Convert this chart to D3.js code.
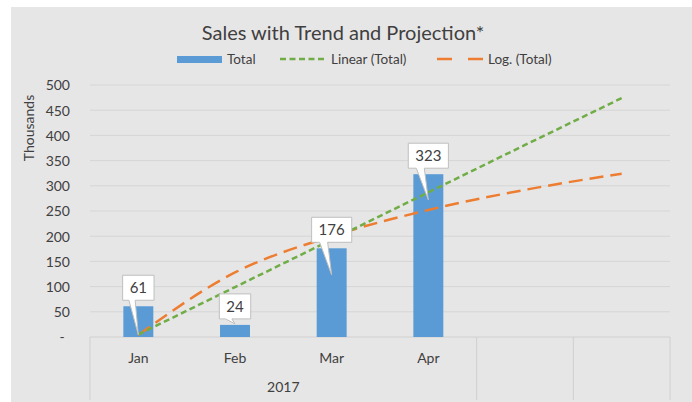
<!DOCTYPE html>
<html>
<head>
<meta charset="utf-8">
<script src="https://cdn.jsdelivr.net/npm/d3@7"></script>
<style>
  body { margin: 0; background: #ffffff; }
  svg text { font-family: Lato, "Open Sans", sans-serif; fill: #404040; }
</style>
</head>
<body>
<div id="chart"></div>
<script>
// data (sales in thousands)
const months = ["Jan", "Feb", "Mar", "Apr", "", ""]
const totals = [61, 24, 176, 323]
const linearTrend = [5, 99, 193, 287, 381, 474]
const logTrend = [4, 128, 200, 252, 292, 324]
const calloutTip = [4, 26, 123, 272]
const yTicks = [0, 50, 100, 150, 200, 250, 300, 350, 400, 450, 500]
const yearLabel = "2017"

function drawChart() {

  let dimensions = {
    width: 692,
    height: 402,
    margin: { top: 85, right: 22, bottom: 65, left: 90 },
  }
  dimensions.boundedWidth = dimensions.width - dimensions.margin.left - dimensions.margin.right
  dimensions.boundedHeight = dimensions.height - dimensions.margin.top - dimensions.margin.bottom

  const wrapper = d3.select("#chart")
    .append("svg")
      .attr("width", dimensions.width)
      .attr("height", dimensions.height)

  wrapper.append("rect")
      .attr("x", 11)
      .attr("y", 7)
      .attr("width", dimensions.width - 11)
      .attr("height", dimensions.height - 7)
      .attr("fill", "#e7e6e6")

  const bounds = wrapper.append("g")
      .attr("transform", `translate(${dimensions.margin.left},${dimensions.margin.top})`)

  // scales
  const xScale = d3.scaleBand()
    .domain(d3.range(months.length))
    .range([0, dimensions.boundedWidth])
    .padding(0)

  const yScale = d3.scaleLinear()
    .domain([0, 500])
    .range([dimensions.boundedHeight, 0])

  const cx = i => xScale(i) + xScale.bandwidth() / 2
  const barWidth = xScale.bandwidth() * 0.31

  // gridlines
  bounds.append("g")
    .selectAll("line")
    .data(yTicks.slice(1))
    .join("line")
      .attr("x1", 0)
      .attr("x2", dimensions.boundedWidth)
      .attr("y1", d => yScale(d))
      .attr("y2", d => yScale(d))
      .attr("stroke", "#d6d5d5")
      .attr("stroke-width", 1)

  // y axis labels
  const yAxis = bounds.append("g")
    .call(d3.axisLeft(yScale)
      .tickValues(yTicks)
      .tickSize(0)
      .tickPadding(20)
      .tickFormat(d => d === 0 ? "-" : d))
  yAxis.select(".domain").remove()
  yAxis.selectAll("text")
      .style("font-family", "Lato, sans-serif")
      .style("font-size", "14px")
      .attr("fill", "#404040")
      .attr("dy", "0.35em")
  yAxis.selectAll(".tick")
    .filter(d => d === 0)
    .select("text")
      .attr("x", -28)
      .attr("text-anchor", "middle")

  bounds.append("text")
      .attr("transform", "translate(-61,43) rotate(-90)")
      .attr("text-anchor", "middle")
      .attr("dy", "0.35em")
      .style("font-size", "14px")
      .text("Thousands")

  // category axis
  const catAxis = bounds.append("g")
      .attr("transform", `translate(0,${dimensions.boundedHeight})`)
  catAxis.append("line")
      .attr("x1", 0)
      .attr("x2", dimensions.boundedWidth)
      .attr("stroke", "#d0cfcf")
  const separators = [0, 4, 5, 6]
  catAxis.selectAll(".sep")
    .data(separators)
    .join("line")
      .attr("class", "sep")
      .attr("x1", d => d < months.length ? xScale(d) : dimensions.boundedWidth)
      .attr("x2", d => d < months.length ? xScale(d) : dimensions.boundedWidth)
      .attr("y1", 0)
      .attr("y2", 63)
      .attr("stroke", "#d0cfcf")
  catAxis.selectAll(".month")
    .data(months)
    .join("text")
      .attr("class", "month")
      .attr("x", (d, i) => cx(i))
      .attr("y", 21)
      .attr("dy", "0.35em")
      .attr("text-anchor", "middle")
      .style("font-size", "14px")
      .text(d => d)
  catAxis.append("text")
      .attr("x", (xScale(0) + xScale(3) + xScale.bandwidth()) / 2)
      .attr("y", 50)
      .attr("dy", "0.35em")
      .attr("text-anchor", "middle")
      .style("font-size", "14px")
      .text(yearLabel)

  // bars
  bounds.append("g")
    .selectAll("rect")
    .data(totals)
    .join("rect")
      .attr("x", (d, i) => cx(i) - barWidth / 2)
      .attr("width", barWidth)
      .attr("y", d => yScale(d))
      .attr("height", d => dimensions.boundedHeight - yScale(d))
      .attr("fill", "#5b9bd5")

  // trendlines
  const linearLine = d3.line()
    .x((d, i) => cx(i))
    .y(d => yScale(d))

  const logLine = d3.line()
    .x((d, i) => cx(i))
    .y(d => yScale(d))
    .curve(d3.curveMonotoneX)

  bounds.append("path")
      .attr("d", logLine(logTrend))
      .attr("fill", "none")
      .attr("stroke", "#ed7d31")
      .attr("stroke-width", 2.5)
      .attr("stroke-dasharray", "14,7")

  bounds.append("path")
      .attr("d", linearLine(linearTrend))
      .attr("fill", "none")
      .attr("stroke", "#70ad47")
      .attr("stroke-width", 2.5)
      .attr("stroke-dasharray", "6,3.5")

  // data callouts
  const callouts = bounds.append("g")
    .selectAll("g")
    .data(totals)
    .join("g")

  callouts.each(function(d, i) {
    const g = d3.select(this)
    const label = g.append("text")
      .attr("x", cx(i))
      .attr("text-anchor", "middle")
      .style("font-size", "15px")
      .attr("fill", "#404040")
      .text(d)
    const w = label.node().getComputedTextLength() + 14
    const h = 25
    const x0 = cx(i) - w / 2
    const y1 = yScale(d) - 6
    const y0 = y1 - h
    const tipX = cx(i)
    const tipY = yScale(calloutTip[i])
    const b0 = x0 + w * 0.2
    const b1 = x0 + w * 0.4
    const path = `M${x0},${y0}H${x0 + w}V${y1}H${b1}L${tipX},${tipY}L${b0},${y1}H${x0}Z`
    g.insert("path", "text")
      .attr("d", path)
      .attr("fill", "#ffffff")
      .attr("stroke", "#bfbfbf")
      .attr("stroke-width", 1)
    label.attr("y", (y0 + y1) / 2).attr("dy", "0.35em")
  })

  // title
  wrapper.append("text")
      .attr("x", 343)
      .attr("y", 33)
      .attr("dy", "0.35em")
      .attr("text-anchor", "middle")
      .style("font-size", "20px")
      .attr("fill", "#404040")
      .text("Sales with Trend and Projection*")

  // legend
  const legend = wrapper.append("g")
      .attr("transform", "translate(0,59)")
  legend.append("rect")
      .attr("x", 177)
      .attr("y", -3)
      .attr("width", 45)
      .attr("height", 7)
      .attr("fill", "#5b9bd5")
  legend.append("line")
      .attr("x1", 280)
      .attr("x2", 326)
      .attr("stroke", "#70ad47")
      .attr("stroke-width", 2.5)
      .attr("stroke-dasharray", "6,3.5")
  legend.append("line")
      .attr("x1", 437)
      .attr("x2", 483)
      .attr("stroke", "#ed7d31")
      .attr("stroke-width", 2.5)
      .attr("stroke-dasharray", "15,16")
  const legendItems = [
    { x: 227, text: "Total" },
    { x: 331, text: "Linear (Total)" },
    { x: 488, text: "Log. (Total)" },
  ]
  legend.selectAll(".ltext")
    .data(legendItems)
    .join("text")
      .attr("class", "ltext")
      .attr("x", d => d.x)
      .attr("dy", "0.35em")
      .style("font-size", "13.5px")
      .text(d => d.text)
}

drawChart()
</script>
</body>
</html>
